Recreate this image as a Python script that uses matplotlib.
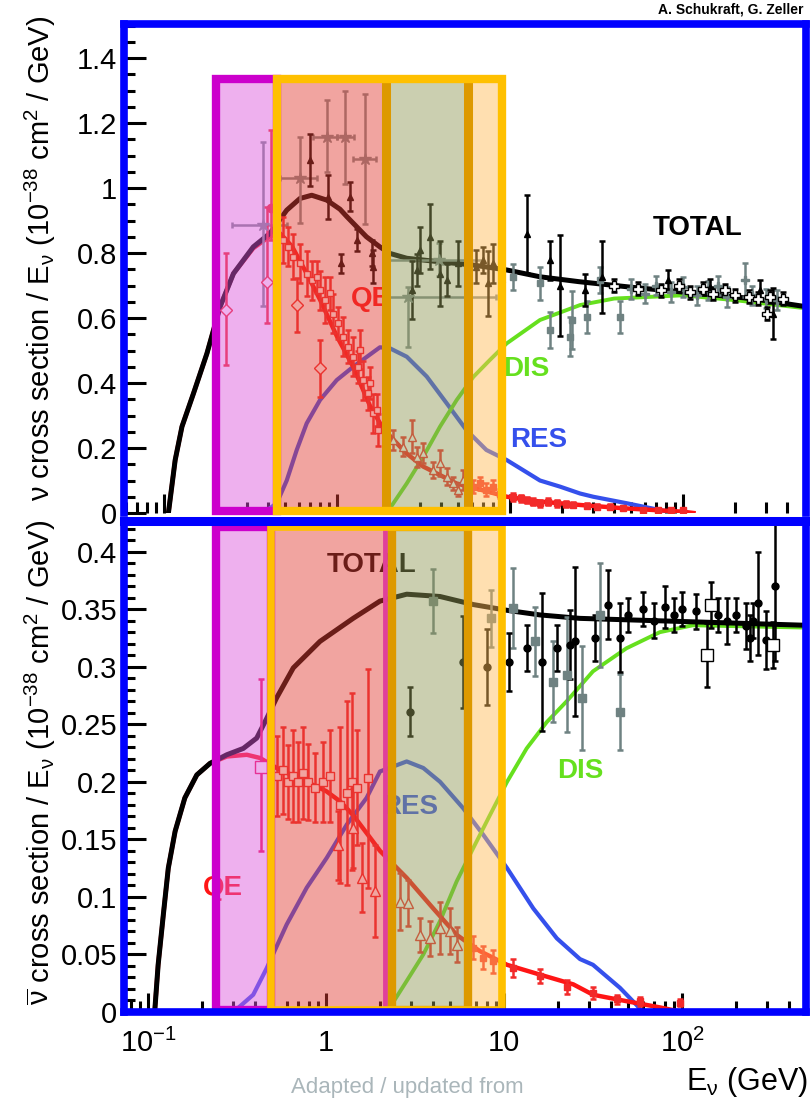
import matplotlib
matplotlib.use('Agg')
import matplotlib.pyplot as plt
from matplotlib import transforms
from matplotlib.patches import Rectangle
from matplotlib.ticker import FixedLocator, LogLocator, NullFormatter, MultipleLocator, FuncFormatter

plt.rcParams['font.family'] = ['Liberation Sans', 'DejaVu Sans']
plt.rcParams['mathtext.fontset'] = 'custom'
plt.rcParams['mathtext.rm'] = 'Liberation Sans'
plt.rcParams['mathtext.it'] = 'Liberation Sans:italic'
plt.rcParams['mathtext.bf'] = 'Liberation Sans:bold'
plt.rcParams['mathtext.sf'] = 'Liberation Sans'

# ---------------- neutrino (top) curves ----------------
nu_total_E = [0.106, 0.116, 0.127, 0.148, 0.177, 0.211, 0.252, 0.328, 0.41, 0.512, 0.611, 0.714, 0.872,
              1.04, 1.14, 1.48, 1.77, 2.02, 2.53, 3.94, 6.14, 9.57, 14.9, 25.0, 50.0, 114.0, 250.0, 514.0]
nu_total_y = [0.0, 0.163, 0.266, 0.368, 0.491, 0.635, 0.737, 0.819, 0.861, 0.932, 0.968, 0.978, 0.963,
              0.935, 0.912, 0.85, 0.819, 0.799, 0.784, 0.773, 0.763, 0.748, 0.727, 0.712, 0.695, 0.677, 0.66, 0.635]
nu_qe_E = [0.106, 0.116, 0.127, 0.148, 0.177, 0.211, 0.252, 0.328, 0.41, 0.47, 0.55, 0.668, 0.8, 1.0, 1.24,
           1.55, 1.8, 2.0, 2.5, 3.15, 4.9, 6.1, 9.6, 15.0, 25.0, 47.0, 100.0, 115.0]
nu_qe_y = [0.0, 0.163, 0.266, 0.368, 0.491, 0.635, 0.737, 0.815, 0.852, 0.86, 0.82, 0.737, 0.655, 0.543, 0.45,
           0.33, 0.27, 0.24, 0.185, 0.143, 0.091, 0.078, 0.05, 0.035, 0.025, 0.014, 0.004, 0.0]
nu_res_E = [0.375, 0.448, 0.512, 0.585, 0.668, 0.798, 0.996, 1.24, 1.77, 2.02, 2.53, 3.3, 4.3, 5.6, 7.3, 9.57,
            14.9, 19.5, 25.4, 30.3, 47.3, 73.6, 92.0]
nu_res_y = [0.0, 0.03, 0.10, 0.194, 0.276, 0.348, 0.409, 0.45, 0.51, 0.507, 0.481, 0.42, 0.338, 0.255, 0.194,
            0.163, 0.10, 0.081, 0.06, 0.05, 0.03, 0.009, 0.0]
nu_dis_E = [1.9, 2.02, 2.53, 3.15, 3.94, 4.92, 6.14, 7.65, 9.57, 14.9, 25.4, 40.0, 100.0, 200.0, 514.0]
nu_dis_y = [0.0, 0.014, 0.091, 0.173, 0.266, 0.348, 0.419, 0.471, 0.522, 0.594, 0.64, 0.66, 0.67, 0.655, 0.63]

# ---------------- neutrino (top) data ----------------
nu_qe_data_E = [0.489, 0.523, 0.559, 0.611, 0.668, 0.714, 0.763, 0.798, 0.852, 0.911, 0.952, 1.018, 1.087,
                1.162, 1.242, 1.328, 1.419, 1.517, 1.622, 1.734, 1.36, 1.55, 1.70]
nu_qe_data_y = [0.84, 0.82, 0.789, 0.768, 0.737, 0.717, 0.727, 0.686, 0.655, 0.676, 0.614, 0.584, 0.543,
                0.512, 0.481, 0.45, 0.409, 0.368, 0.307, 0.255, 0.502, 0.40, 0.317]
nu_qe_data_err = [0.07, 0.06, 0.07, 0.06, 0.07, 0.06, 0.05, 0.06, 0.07, 0.05, 0.06, 0.05, 0.06,
                  0.05, 0.06, 0.05, 0.06, 0.05, 0.06, 0.05, 0.06, 0.05, 0.05]
nu_qe_big_E = [0.228, 0.392, 0.585, 0.797]
nu_qe_big_y = [0.625, 0.712, 0.64, 0.445]
nu_qe_big_lo = [0.17, 0.128, 0.082, 0.087]
nu_qe_big_hi = [0.175, 0.231, 0.082, 0.087]
nu_qe_dot_E = [0.415]
nu_qe_dot_y = [0.94]
nu_qe_dot_lo = [0.1]
nu_qe_dot_hi = [0.24]
nu_qe_mid_E = [2.12, 2.42, 2.7, 2.89, 3.15, 3.6, 3.94, 4.3, 4.7, 5.0, 5.37]
nu_qe_mid_y = [0.225, 0.204, 0.235, 0.173, 0.184, 0.132, 0.153, 0.112, 0.091, 0.071, 0.102]
nu_qe_mid_err = [0.03, 0.03, 0.05, 0.03, 0.03, 0.025, 0.04, 0.025, 0.02, 0.02, 0.03]
nu_qe_hi_E = [6.14, 6.7, 7.3, 8.0, 8.75, 10.4, 11.5, 12.5, 13.5, 14.9, 16.5, 18.6, 21.0, 23.2, 28.0, 32.0,
              37.9, 45.0, 59.0, 72.0, 85.0, 100.0]
nu_qe_hi_y = [0.081, 0.091, 0.071, 0.081, 0.06, 0.05, 0.045, 0.04, 0.035, 0.03, 0.035, 0.03, 0.028, 0.025,
              0.022, 0.02, 0.02, 0.015, 0.01, 0.01, 0.008, 0.01]
nu_qe_hi_err = [0.02, 0.02, 0.02, 0.02, 0.015, 0.012, 0.01, 0.01, 0.01, 0.01, 0.01, 0.01, 0.008, 0.008,
                0.008, 0.008, 0.008, 0.006, 0.006, 0.006, 0.005, 0.006]

nu_gray_star_E = [0.375, 0.611, 0.872, 1.11, 1.45, 2.57, 3.9]
nu_gray_star_y = [0.886, 1.03, 1.158, 1.158, 1.09, 0.665, 0.78]
nu_gray_star_Elo = [0.246, 0.469, 0.73, 1.0, 1.24, 1.95, 2.0]
nu_gray_star_Ehi = [0.512, 0.763, 1.0, 1.25, 1.69, 8.3, 7.0]
nu_gray_star_lo = [0.25, 0.139, 0.108, 0.144, 0.2, 0.153, 0.05]
nu_gray_star_hi = [0.257, 0.128, 0.113, 0.142, 0.2, 0.03, 0.05]
nu_gray_sq_E = [10.4, 14.9, 17.0, 22.2, 22.7, 27.9, 33.0, 43.3]
nu_gray_sq_y = [0.727, 0.707, 0.563, 0.543, 0.594, 0.604, 0.717, 0.604]
nu_gray_sq_err = [0.04, 0.05, 0.056, 0.06, 0.09, 0.05, 0.04, 0.05]
nu_gray_x_E = [50, 60, 70, 85, 100, 120, 140, 160, 180, 228, 250, 300, 350]
nu_gray_x_y = [0.69, 0.675, 0.70, 0.68, 0.695, 0.67, 0.685, 0.70, 0.665, 0.717, 0.67, 0.66, 0.655]
nu_gray_x_err = [0.03, 0.03, 0.03, 0.03, 0.03, 0.03, 0.03, 0.03, 0.03, 0.053, 0.03, 0.03, 0.03]

nu_black_E = [0.70, 0.89, 1.06, 1.19, 1.30, 1.59, 1.62, 2.7, 2.9, 3.02, 3.45, 3.94, 4.3, 5.03, 6.4, 7.0,
              7.5, 8.0, 9.0, 12.5, 17.0, 19.5, 27.0, 33.8, 82.0, 143.0, 278.0, 333.0]
nu_black_y = [1.086, 0.973, 0.768, 0.973, 0.84, 0.80, 0.758, 0.686, 0.748, 0.809, 0.85, 0.737, 0.717, 0.768,
              0.758, 0.778, 0.707, 0.768, 0.72, 0.86, 0.778, 0.70, 0.686, 0.727, 0.717, 0.696, 0.686, 0.614]
nu_black_err = [0.08, 0.067, 0.03, 0.045, 0.035, 0.04, 0.05, 0.09, 0.05, 0.07, 0.1, 0.1, 0.05, 0.07, 0.05,
                0.04, 0.1, 0.06, 0.08, 0.12, 0.06, 0.155, 0.05, 0.11, 0.03, 0.025, 0.03, 0.08]
nu_open_E = [40, 55, 75, 95, 110, 130, 150, 175, 200, 240, 270, 305, 320, 380]
nu_open_y = [0.70, 0.69, 0.685, 0.70, 0.68, 0.69, 0.675, 0.685, 0.67, 0.665, 0.66, 0.614, 0.665, 0.66]
nu_open_err = [0.02] * 14

# ---------------- antineutrino (bottom) curves ----------------
nb_total_E = [0.109, 0.114, 0.122, 0.13, 0.142, 0.161, 0.188, 0.223, 0.277, 0.343, 0.408, 0.464, 0.528,
              0.655, 0.925, 1.42, 2.01, 2.84, 4.37, 6.72, 10.4, 15.9, 26.7, 115.0, 497.0]
nb_total_y = [0.0, 0.041, 0.085, 0.125, 0.157, 0.186, 0.206, 0.216, 0.2235, 0.229, 0.238, 0.255, 0.273,
              0.299, 0.322, 0.342, 0.357, 0.363, 0.361, 0.354, 0.349, 0.345, 0.342, 0.339, 0.336]
nb_qe_E = [0.109, 0.114, 0.122, 0.13, 0.142, 0.161, 0.188, 0.223, 0.277, 0.359, 0.426, 0.528, 1.0, 1.2,
           1.42, 1.7, 2.01, 2.84, 4.0, 5.42, 7.3, 10.4, 15.9, 24.5, 31.6, 48.7, 75.0, 100.0]
nb_qe_y = [0.0, 0.041, 0.085, 0.125, 0.157, 0.186, 0.206, 0.216, 0.222, 0.2235, 0.2207, 0.212, 0.192, 0.183,
           0.171, 0.155, 0.14, 0.1165, 0.09, 0.067, 0.053, 0.041, 0.0325, 0.024, 0.015, 0.0094, 0.004, 0.0]
nb_res_E = [0.302, 0.39, 0.464, 0.601, 0.779, 1.01, 1.31, 1.69, 2.01, 2.84, 3.52, 4.37, 5.9, 7.64, 10.4,
            14.6, 19.8, 26.7, 31.6, 44.8, 55.6, 60.0]
nb_res_y = [0.0, 0.015, 0.038, 0.076, 0.108, 0.134, 0.163, 0.186, 0.209, 0.2177, 0.212, 0.2, 0.177, 0.154,
            0.125, 0.09, 0.064, 0.046, 0.041, 0.021, 0.006, 0.0]
nb_dis_E = [2.2, 2.84, 3.52, 4.37, 5.42, 6.72, 8.33, 10.4, 13.4, 17.4, 22.5, 31.6, 48.7, 75.0, 115.0, 497.0]
nb_dis_y = [0.0, 0.027, 0.05, 0.079, 0.1135, 0.1425, 0.171, 0.2, 0.229, 0.252, 0.27, 0.296, 0.316, 0.33,
            0.336, 0.334]

# ---------------- antineutrino (bottom) data ----------------
nb_qe_data_E = [0.528, 0.575, 0.614, 0.655, 0.699, 0.746, 0.795, 0.867, 0.966, 1.053, 1.198, 1.307, 1.394,
                1.488, 1.729]
nb_qe_data_y = [0.205, 0.21, 0.2, 0.205, 0.2, 0.208, 0.2, 0.195, 0.2, 0.205, 0.18, 0.19, 0.2, 0.195, 0.203]
nb_qe_data_err = [0.035, 0.038, 0.032, 0.04, 0.035, 0.04, 0.033, 0.03, 0.035, 0.04, 0.068, 0.08, 0.077,
                  0.05, 0.095]
nb_qe_pink_E = [0.43]
nb_qe_pink_y = [0.213]
nb_qe_pink_lo = [0.073]
nb_qe_pink_hi = [0.076]
nb_tri_E = [1.17, 1.42, 1.59, 1.88, 2.6, 2.9, 3.37, 3.84, 4.37, 4.97, 5.42]
nb_tri_y = [0.145, 0.16, 0.1165, 0.105, 0.096, 0.095, 0.067, 0.064, 0.073, 0.07, 0.0586]
nb_tri_err = [0.03, 0.035, 0.03, 0.04, 0.025, 0.02, 0.015, 0.015, 0.023, 0.02, 0.015]
nb_red_hi_E = [6.72, 7.64, 8.7, 11.3, 15.9, 22.5, 31.6, 43.0, 58.0, 97.6]
nb_red_hi_y = [0.0557, 0.047, 0.044, 0.038, 0.031, 0.022, 0.0167, 0.011, 0.0094, 0.008]
nb_red_hi_err = [0.01, 0.01, 0.01, 0.008, 0.006, 0.006, 0.005, 0.004, 0.004, 0.003]

nb_black_E = [2.96, 5.9, 8.0, 10.6, 13.4, 16.3, 19.8, 23.4, 25.0, 32.4, 38.5, 44.8, 50, 60, 70, 80, 90, 100,
              120, 160, 180, 200, 230, 250, 267, 331, 240, 298]
nb_black_y = [0.261, 0.304, 0.3, 0.304, 0.316, 0.304, 0.316, 0.319, 0.322, 0.325, 0.354, 0.325, 0.345, 0.35,
              0.34, 0.352, 0.345, 0.35, 0.348, 0.345, 0.34, 0.345, 0.335, 0.34, 0.355, 0.37, 0.325, 0.323]
nb_black_err = [0.021, 0.04, 0.033, 0.025, 0.02, 0.06, 0.02, 0.03, 0.065, 0.02, 0.03, 0.03, 0.015, 0.015,
                0.015, 0.018, 0.015, 0.015, 0.015, 0.015, 0.02, 0.015, 0.02, 0.015, 0.045, 0.065, 0.02, 0.025]
nb_open_E = [139, 145, 326]
nb_open_y = [0.31, 0.354, 0.319]
nb_open_err = [0.028, 0.02, 0.02]
nb_gray_E = [4.0, 8.5, 11.3, 14.9, 18.9, 22.5, 27.3, 34.5, 44.8]
nb_gray_y = [0.357, 0.342, 0.351, 0.322, 0.287, 0.293, 0.273, 0.345, 0.261]
nb_gray_err = [0.028, 0.025, 0.035, 0.03, 0.035, 0.05, 0.045, 0.045, 0.033]

# ---------------- tick labels / texts ----------------
x_ticks = [0.1, 1, 10, 100]
x_ticklabels = [r'$10^{-1}$', '1', '10', r'$10^{2}$']
top_yticks = [0, 0.2, 0.4, 0.6, 0.8, 1.0, 1.2, 1.4]
bot_yticks = [0, 0.05, 0.1, 0.15, 0.2, 0.25, 0.3, 0.35, 0.4]

# energy-region highlight bands (GeV)
bands_top = [0.24, 0.53, 2.16, 6.28, 9.75]
bands_bot = [0.24, 0.49, 2.14, 2.35, 6.25, 9.75]

C_TOT = 'black'
C_QE = '#FF1515'
C_RES = '#3550EC'
C_DIS = '#66E01E'
C_RED = '#F22A2A'
C_GRAY = '#6F8282'
F_MAG, F_RED, F_GRN, F_ORG = '#DB57DB', '#E33E35', '#919957', '#FFBB57'
E_MAG, E_YEL, E_DOR, E_PNK = '#CC00CC', '#FFC000', '#DD9900', '#E0409A'
BLUE = '#0000FF'
ALPHA = 0.47

W, H = 810, 1100
fig = plt.figure(figsize=(W / 100, H / 100), dpi=100)


def frac(x0, y0, x1, y1):
    return [x0 / W, 1 - y1 / H, (x1 - x0) / W, (y1 - y0) / H]


ax_t = fig.add_axes(frac(124, 24, 806, 513))
ax_b = fig.add_axes(frac(124, 521, 806, 1012))

for ax in (ax_t, ax_b):
    ax.set_xscale('log')
ax_t.set_xlim(0.0587, 514)
ax_b.set_xlim(0.0733, 497)
ax_t.set_ylim(0, 1.505)
ax_b.set_ylim(0, 0.4266)

eb_kw = dict(capsize=2.5, elinewidth=1.8, capthick=1.8, zorder=3, linestyle='none')

# ---- top curves ----
ax_t.plot(nu_res_E, nu_res_y, color=C_RES, lw=3.0, zorder=2)
ax_t.plot(nu_dis_E, nu_dis_y, color=C_DIS, lw=2.8, zorder=2)
ax_t.plot(nu_qe_E, nu_qe_y, color=C_QE, lw=3.2, zorder=2)
ax_t.plot(nu_total_E, nu_total_y, color=C_TOT, lw=3.6, zorder=2.1)

# ---- top data ----
ax_t.errorbar(nu_gray_x_E, nu_gray_x_y, yerr=nu_gray_x_err, fmt='P', color=C_GRAY, ms=6, **eb_kw)
ax_t.errorbar(nu_gray_sq_E, nu_gray_sq_y, yerr=nu_gray_sq_err, fmt='s', color=C_GRAY, ms=5, **eb_kw)
ax_t.errorbar(nu_gray_star_E, nu_gray_star_y,
              xerr=[[e - l for e, l in zip(nu_gray_star_E, nu_gray_star_Elo)],
                    [h - e for e, h in zip(nu_gray_star_E, nu_gray_star_Ehi)]],
              yerr=[nu_gray_star_lo, nu_gray_star_hi], fmt='*', color='#7E8C8C', ms=9, **eb_kw)
ax_t.errorbar(nu_black_E, nu_black_y, yerr=nu_black_err, fmt='^', color='black', ms=5, **eb_kw)
ax_t.errorbar(nu_open_E, nu_open_y, yerr=nu_open_err, fmt='P', color='black', mfc='white', ms=7, **eb_kw)
ax_t.errorbar(nu_qe_data_E, nu_qe_data_y, yerr=nu_qe_data_err, fmt='s', color=C_RED, mfc='white', ms=5, **eb_kw)
ax_t.errorbar(nu_qe_big_E, nu_qe_big_y, yerr=[nu_qe_big_lo, nu_qe_big_hi], fmt='D', color=C_RED,
              mfc='white', ms=6, **eb_kw)
ax_t.errorbar(nu_qe_dot_E, nu_qe_dot_y, yerr=[nu_qe_dot_lo, nu_qe_dot_hi], fmt='o', color=C_RED, ms=6, **eb_kw)
ax_t.errorbar(nu_qe_mid_E, nu_qe_mid_y, yerr=nu_qe_mid_err, fmt='^', color=C_RED, mfc='white', ms=6, **eb_kw)
ax_t.errorbar(nu_qe_hi_E, nu_qe_hi_y, yerr=nu_qe_hi_err, fmt='s', color=C_RED, ms=4, **eb_kw)

# ---- bottom curves ----
ax_b.plot(nb_res_E, nb_res_y, color=C_RES, lw=3.0, zorder=2)
ax_b.plot(nb_dis_E, nb_dis_y, color=C_DIS, lw=2.8, zorder=2)
ax_b.plot(nb_qe_E, nb_qe_y, color=C_QE, lw=3.2, zorder=2)
ax_b.plot(nb_total_E, nb_total_y, color=C_TOT, lw=3.6, zorder=2.1)

# ---- bottom data ----
ax_b.errorbar(nb_gray_E, nb_gray_y, yerr=nb_gray_err, fmt='s', color=C_GRAY, ms=6, **eb_kw)
ax_b.errorbar(nb_black_E, nb_black_y, yerr=nb_black_err, fmt='o', color='black', ms=5, **eb_kw)
ax_b.errorbar(nb_open_E, nb_open_y, yerr=nb_open_err, fmt='s', color='black', mfc='white', ms=8, **eb_kw)
ax_b.errorbar(nb_qe_data_E, nb_qe_data_y, yerr=nb_qe_data_err, fmt='s', color=C_RED, mfc='white', ms=6, **eb_kw)
ax_b.errorbar(nb_qe_pink_E, nb_qe_pink_y, yerr=[nb_qe_pink_lo, nb_qe_pink_hi], fmt='s', color='#F0105A',
              mfc='white', ms=8, **eb_kw)
ax_b.errorbar(nb_tri_E, nb_tri_y, yerr=nb_tri_err, fmt='^', color=C_RED, mfc='white', ms=7, **eb_kw)
ax_b.errorbar(nb_red_hi_E, nb_red_hi_y, yerr=nb_red_hi_err, fmt='s', color=C_RED, ms=5, **eb_kw)

# ---- curve labels (beneath the highlight bands) ----
lab_kw = dict(fontsize=20, fontweight='bold', ha='center', va='center', zorder=4)
ax_t.text(122, 0.877, 'TOTAL', color='black', **lab_kw)
ax_t.text(1.57, 0.658, 'QE', color=C_QE, **lab_kw)
ax_t.text(12.5, 0.443, 'DIS', color=C_DIS, **lab_kw)
ax_t.text(14.7, 0.225, 'RES', color=C_RES, **lab_kw)
ax_b.text(1.81, 0.388, 'TOTAL', color='black', **lab_kw)
ax_b.text(26.7, 0.209, 'DIS', color=C_DIS, **lab_kw)
ax_b.text(2.96, 0.178, 'RES', color=C_RES, **lab_kw)
ax_b.text(0.264, 0.108, 'QE', color=C_QE, **lab_kw)

# ---- highlight bands ----
def rect(ax, trans, x0, x1, y0, y1, fc=None, ec=None, lw=0, z=5, alpha=1.0):
    ax.add_patch(Rectangle((x0, y0), x1 - x0, y1 - y0, transform=trans,
                           facecolor=fc if fc else 'none', edgecolor=ec if ec else 'none',
                           lw=lw, zorder=z, alpha=alpha, clip_on=False))

def vline(ax, trans, x, y0, y1, color, lw, z=6):
    ax.plot([x, x], [y0, y1], color=color, lw=lw, transform=trans, zorder=z, clip_on=False,
            solid_capstyle='butt')

tr_t = transforms.blended_transform_factory(ax_b.transData, ax_t.transData)
m0, m1, c1, c2, y2 = bands_top
yb, yt = 0.006, 1.336
rect(ax_t, tr_t, m0, m1, yb, yt, fc=F_MAG, alpha=ALPHA)
rect(ax_t, tr_t, m1, c1, yb, yt, fc=F_RED, alpha=ALPHA)
rect(ax_t, tr_t, c1, c2, yb, yt, fc=F_GRN, alpha=ALPHA)
rect(ax_t, tr_t, c2, y2, yb, yt, fc=F_ORG, alpha=ALPHA)
rect(ax_t, tr_t, m0, m1, yb, yt, ec=E_MAG, lw=6, z=6)
vline(ax_t, tr_t, c1, yb, yt, E_DOR, 6.5)
vline(ax_t, tr_t, c2, yb, yt, E_DOR, 6.5)
rect(ax_t, tr_t, m1, y2, yb, yt, ec=E_YEL, lw=6, z=7)

tr_b = ax_b.transData
m0, m1, p1, d1, d2, y2 = bands_bot
yb, yt = 0.002, 0.4214
rect(ax_b, tr_b, m0, m1, yb, yt, fc=F_MAG, alpha=ALPHA)
rect(ax_b, tr_b, m1, d1, yb, yt, fc=F_RED, alpha=ALPHA)
rect(ax_b, tr_b, d1, d2, yb, yt, fc=F_GRN, alpha=ALPHA)
rect(ax_b, tr_b, d2, y2, yb, yt, fc=F_ORG, alpha=ALPHA)
rect(ax_b, tr_b, m0, m1, yb, yt, ec=E_MAG, lw=6, z=6)
vline(ax_b, tr_b, p1, yb, yt, E_PNK, 3.5)
rect(ax_b, tr_b, d1, d2, yb, yt, ec=E_DOR, lw=6, z=6)
rect(ax_b, tr_b, m1, y2, yb, yt, ec=E_YEL, lw=5.5, z=7)

# ---- axes styling ----
for ax in (ax_t, ax_b):
    ax.set_facecolor('white')
    ax.xaxis.set_major_locator(FixedLocator(x_ticks))
    ax.xaxis.set_minor_locator(LogLocator(base=10, subs=range(2, 10), numticks=20))
    ax.xaxis.set_minor_formatter(NullFormatter())
    ax.tick_params(axis='both', which='major', direction='in', length=16, width=2.2,
                   labelsize=21, top=False, right=False)
    ax.tick_params(axis='both', which='minor', direction='in', length=8, width=2.2,
                   top=False, right=False)
    ax.tick_params(axis='y', which='major', pad=5)
    ax.tick_params(axis='x', which='major', pad=12, length=14)
    for sp in ax.spines.values():
        sp.set_color(BLUE)
        sp.set_linewidth(5.5)
        sp.set_zorder(20)

ax_t.spines['bottom'].set_visible(False)
ax_b.spines['top'].set_linewidth(6.5)
ax_t.set_xticklabels([])

ax_t.yaxis.set_major_locator(FixedLocator(top_yticks))
ax_t.yaxis.set_minor_locator(MultipleLocator(0.05))
ax_b.yaxis.set_major_locator(FixedLocator(bot_yticks))
ax_b.yaxis.set_minor_locator(MultipleLocator(0.01))
fmt = FuncFormatter(lambda v, p: ('%g' % round(v, 3)))
ax_t.yaxis.set_major_formatter(fmt)
ax_b.yaxis.set_major_formatter(fmt)
ax_b.set_xticklabels(x_ticklabels)

fig.text(40 / W, 1 - 258 / H, r'ν cross section / E$_{\mathrm{\nu}}$ (10$^{-38}$ cm$^{2}$ / GeV)',
         rotation=90, ha='center', va='center', fontsize=21)
fig.text(40 / W, 1 - 762 / H,
         r'$\overline{\mathrm{\nu}}$ cross section / E$_{\mathrm{\nu}}$ (10$^{-38}$ cm$^{2}$ / GeV)',
         rotation=90, ha='center', va='center', fontsize=21)
fig.text(808 / W, 1 - 1082 / H, r'E$_{\mathrm{\nu}}$ (GeV)', ha='right', va='center', fontsize=22)
fig.text(803 / W, 1 - 9 / H, 'A. Schukraft, G. Zeller', ha='right', va='center', fontsize=10,
         fontweight='bold')
fig.text(407 / W, 1 - 1098 / H, 'Adapted / updated from', ha='center', va='bottom', fontsize=16,
         color='#AAB6BA')

fig.savefig('out.png', dpi=100)
